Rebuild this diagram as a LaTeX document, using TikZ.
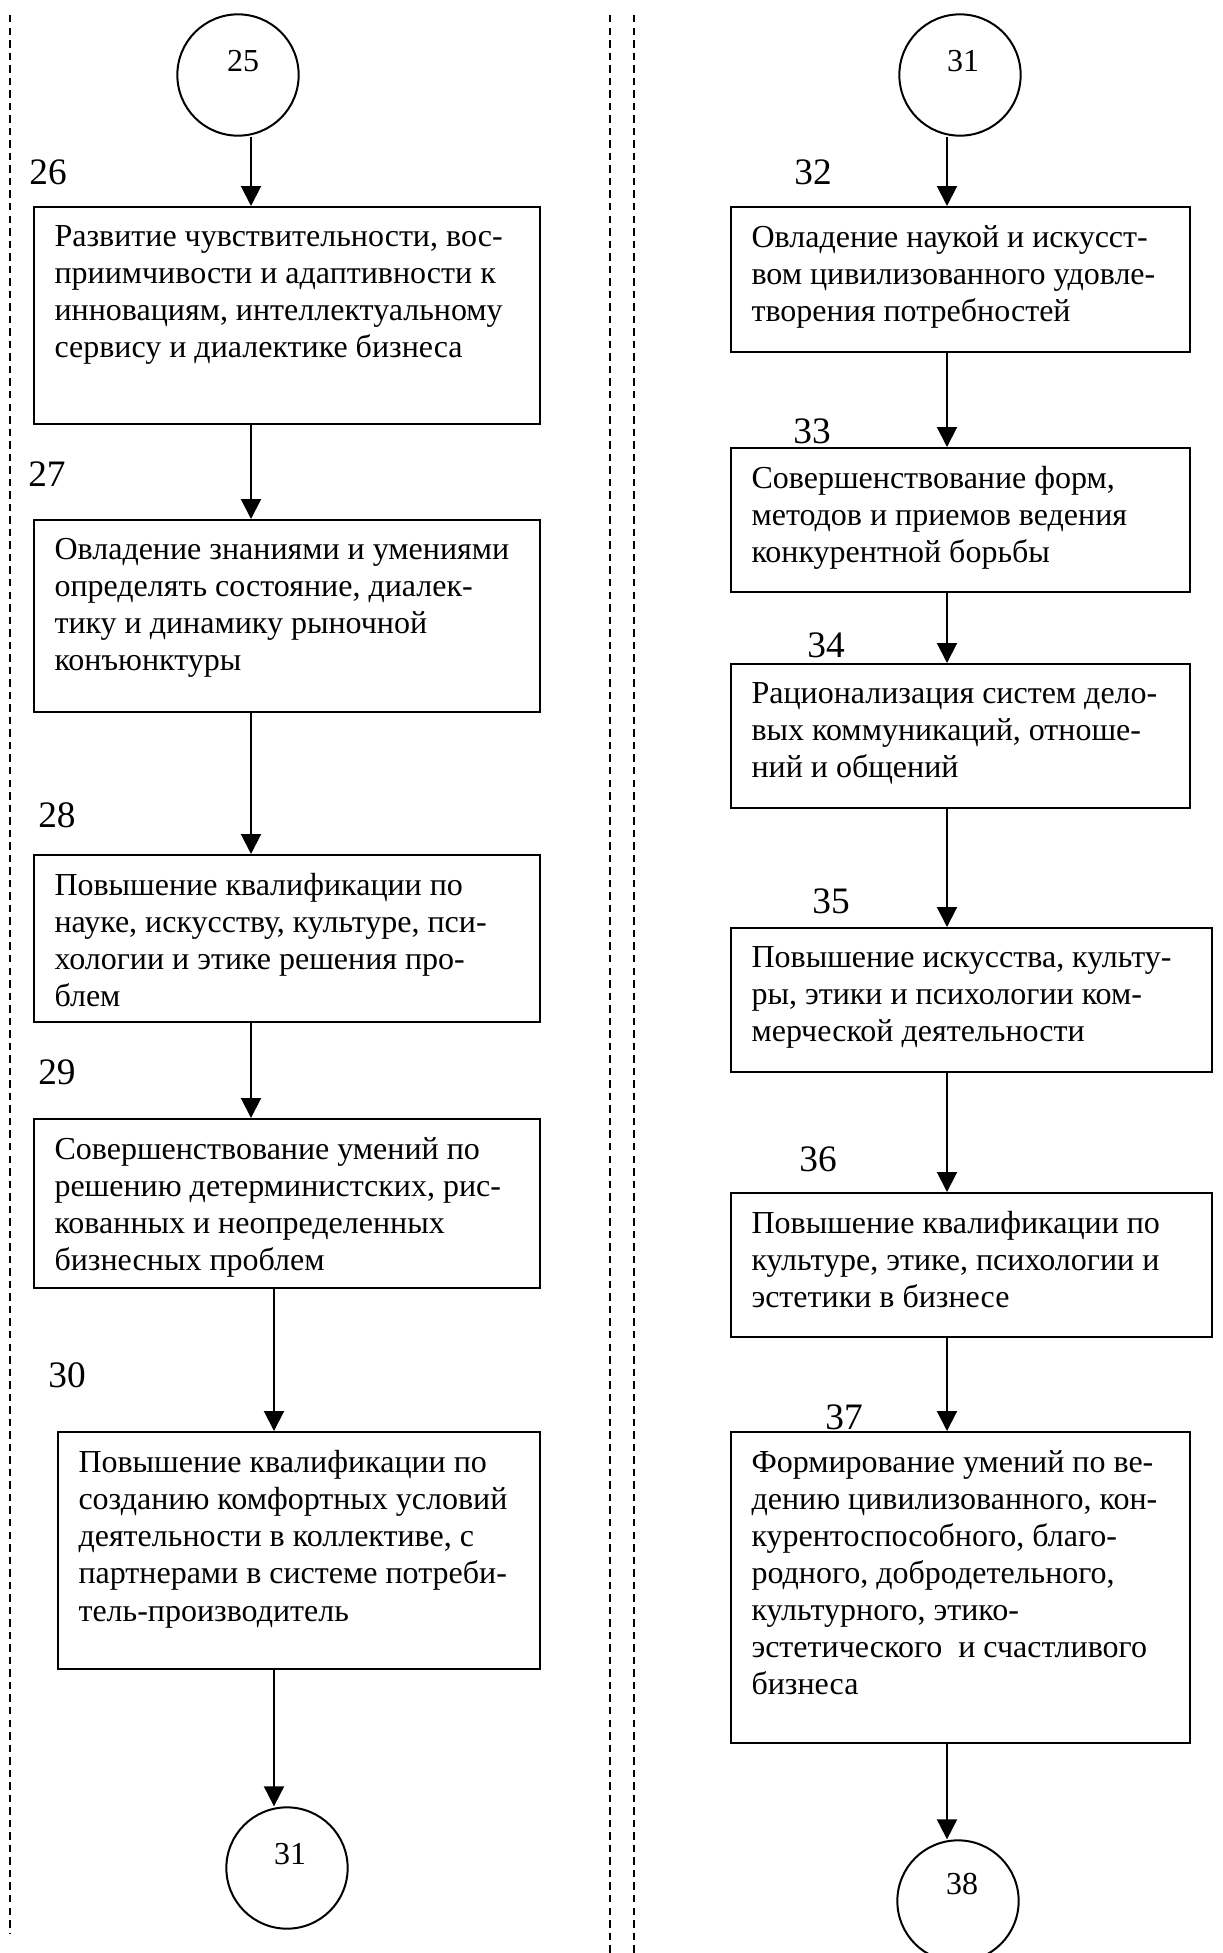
\documentclass[tikz,border=0pt]{standalone}
\usepackage{fontspec}
\setmainfont{Liberation Serif}
\usetikzlibrary{arrows.meta,calc,fit}
\begin{document}
\begin{tikzpicture}[x=0.375pt,y=-0.375pt,
  box/.style={draw, line width=0.75pt, inner sep=0pt},
  ring/.style={draw, circle, line width=0.75pt, inner sep=0pt, minimum size=45.5pt},
  txt/.style={anchor=north west, inner sep=0pt, align=left, font=\fontsize{12}{13.9}\selectfont, execute at begin node=\strut},
  num/.style={inner sep=0pt, font=\fontsize{14}{16}\selectfont},
  cnum/.style={inner sep=0pt, font=\fontsize{12}{14}\selectfont},
  arr/.style={line width=0.75pt, -{Triangle[length=7.5pt,width=7.5pt]}},
  sep/.style={line width=0.6pt, dash pattern=on 2.8pt off 1.9pt}]
\useasboundingbox (0,0) rectangle (1223,1953);

% separators
\draw[sep] (10,15) -- (10,1933);
\draw[sep] (610,15) -- (610,1953);
\draw[sep] (634,15) -- (634,1953);

% arrow columns
\coordinate (colL) at (251,0);
\coordinate (colLL) at (274,0);
\coordinate (colR) at (947,0);

% ---------- left column ----------
\node[ring] (c25) at (238,75) {};
\node[cnum] (t25) at (243,61) {25};

\node[num] (n26) at (48,172) {26};
\node[box, fit={(34,207) (540,424)}] (b26) {};
\node[txt] (t26) at ($(b26.north west)+(21,19)$) {Развитие чувствительности, вос-\\приимчивости и адаптивности к\\инновациям, интеллектуальному\\сервису и диалектике бизнеса};

\node[num] (n27) at (47,474) {27};
\node[box, fit={(34,520) (540,712)}] (b27) {};
\node[txt] (t27) at ($(b27.north west)+(21,19)$) {Овладение знаниями и умениями\\определять состояние, диалек-\\тику и динамику рыночной\\конъюнктуры};

\node[num] (n28) at (57,815) {28};
\node[box, fit={(34,855) (540,1022)}] (b28) {};
\node[txt] (t28) at ($(b28.north west)+(21,19)$) {Повышение квалификации по\\науке, искусству, культуре, пси-\\хологии и этике решения про-\\блем};

\node[num] (n29) at (57,1072) {29};
\node[box, fit={(34,1119) (540,1288)}] (b29) {};
\node[txt] (t29) at ($(b29.north west)+(21,19)$) {Совершенствование умений по\\решению детерминистских, рис-\\кованных и неопределенных\\бизнесных проблем};

\node[num] (n30) at (67,1375) {30};
\node[box, fit={(58,1432) (540,1669)}] (b30) {};
\node[txt] (t30) at ($(b30.north west)+(21,19)$) {Повышение квалификации по\\созданию комфортных условий\\деятельности в коллективе, с\\партнерами в системе потреби-\\тель-производитель};

\node[ring] (c31b) at (287,1868) {};
\node[cnum] (t31b) at (290,1854) {31};

\draw[arr] (c25.south -| colL) -- (b26.north -| colL);
\draw[arr] (b26.south -| colL) -- (b27.north -| colL);
\draw[arr] (b27.south -| colL) -- (b28.north -| colL);
\draw[arr] (b28.south -| colL) -- (b29.north -| colL);
\draw[arr] (b29.south -| colLL) -- (b30.north -| colLL);
\draw[arr] (b30.south -| colLL) -- (c31b.north -| colLL);

% ---------- right column ----------
\node[ring] (c31) at (960,75) {};
\node[cnum] (t31) at (963,61) {31};

\node[num] (n32) at (813,172) {32};
\node[box, fit={(731,207) (1190,352)}] (b32) {};
\node[txt] (t32) at ($(b32.north west)+(21,19)$) {Овладение наукой и искусст-\\вом цивилизованного удовле-\\творения потребностей};

\node[num] (n33) at (812,431) {33};
\node[box, fit={(731,448) (1190,592)}] (b33) {};
\node[txt] (t33) at ($(b33.north west)+(21,19)$) {Совершенствование форм,\\методов и приемов ведения\\конкурентной борьбы};

\node[num] (n34) at (826,645) {34};
\node[box, fit={(731,664) (1190,808)}] (b34) {};
\node[txt] (t34) at ($(b34.north west)+(21,19)$) {Рационализация систем дело-\\вых коммуникаций, отноше-\\ний и общений};

\node[num] (n35) at (831,901) {35};
\node[box, fit={(731,928) (1212,1072)}] (b35) {};
\node[txt] (t35) at ($(b35.north west)+(21,19)$) {Повышение искусства, культу-\\ры, этики и психологии ком-\\мерческой деятельности};

\node[num] (n36) at (818,1159) {36};
\node[box, fit={(731,1193) (1212,1337)}] (b36) {};
\node[txt] (t36) at ($(b36.north west)+(21,19)$) {Повышение квалификации по\\культуре, этике, психологии и\\эстетики в бизнесе};

\node[num] (n37) at (844,1417) {37};
\node[box, fit={(731,1432) (1190,1743)}] (b37) {};
\node[txt] (t37) at ($(b37.north west)+(21,19)$) {Формирование умений по ве-\\дению цивилизованного, кон-\\курентоспособного, благо-\\родного, добродетельного,\\культурного, этико-\\эстетического~ и счастливого\\бизнеса};

\node[ring] (c38) at (958,1901) {};
\node[cnum] (t38) at (962,1884) {38};

\draw[arr] (c31.south -| colR) -- (b32.north -| colR);
\draw[arr] (b32.south -| colR) -- (b33.north -| colR);
\draw[arr] (b33.south -| colR) -- (b34.north -| colR);
\draw[arr] (b34.south -| colR) -- (b35.north -| colR);
\draw[arr] (b35.south -| colR) -- (b36.north -| colR);
\draw[arr] (b36.south -| colR) -- (b37.north -| colR);
\draw[arr] (b37.south -| colR) -- (c38.north -| colR);
\end{tikzpicture}
\end{document}
